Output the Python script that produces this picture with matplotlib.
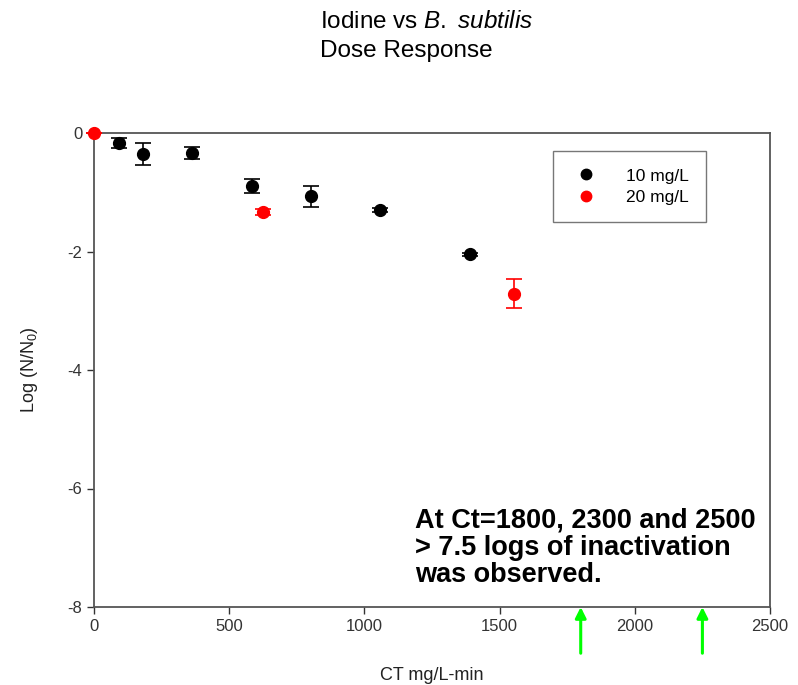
import matplotlib.pyplot as plt
from matplotlib.lines import Line2D

plt.rcParams['font.family'] = ['Liberation Sans', 'DejaVu Sans']
plt.rcParams['axes.unicode_minus'] = False
plt.rcParams['mathtext.fontset'] = 'custom'
plt.rcParams['mathtext.rm'] = 'Liberation Sans'
plt.rcParams['mathtext.it'] = 'Liberation Sans:italic'

# 10 mg/L series
ct_10 = [92, 182, 364, 583, 801, 1058, 1390]
log_10 = [-0.17, -0.355, -0.34, -0.89, -1.07, -1.30, -2.05]
err_10 = [0.09, 0.18, 0.10, 0.115, 0.18, 0.03, 0.03]

# 20 mg/L series
ct_20 = [0, 626, 1553]
log_20 = [0.0, -1.33, -2.71]
err_20 = [0.0, 0.05, 0.25]

# CT values with >7.5 log inactivation (arrows)
arrow_ct = [1800, 2250]

fig = plt.figure(figsize=(7.98, 6.85), dpi=100)
ax = fig.add_axes([94/798, 1-607/685, 676/798, 474/685])

ax.errorbar(ct_10, log_10, yerr=err_10, fmt='o', color='black', ms=8.5,
            capsize=6, elinewidth=1.2, capthick=1.2, zorder=3)
ax.errorbar(ct_20, log_20, yerr=err_20, fmt='o', color='red', ms=8.5,
            capsize=6, elinewidth=1.2, capthick=1.2, zorder=4, clip_on=False)

ax.set_xlim(0, 2500)
ax.set_ylim(-8, 0)
ax.set_xticks([0, 500, 1000, 1500, 2000, 2500])
ax.set_yticks([-8, -6, -4, -2, 0])
ax.tick_params(direction='out', length=5, width=1, labelsize=12, colors='#333333')
for s in ax.spines.values():
    s.set_color('#555555')
    s.set_linewidth(1.3)

ax.set_xlabel('CT mg/L-min', fontsize=13, labelpad=24, color='#222222')
ax.set_ylabel('Log (N/N$_0$)', fontsize=13, labelpad=20, color='#222222')

handles = [Line2D([], [], ls='none', marker='o', color='black', ms=7.5),
           Line2D([], [], ls='none', marker='o', color='red', ms=7.5)]
leg = ax.legend(handles, ['10 mg/L', '20 mg/L'], loc='upper right',
                bbox_to_anchor=((706-94)/676, 1 - (151-133)/474),
                fontsize=12.5, frameon=True, fancybox=False, edgecolor='#555555',
                handletextpad=1.4, borderpad=1.0, labelspacing=0.35, handlelength=1.8,
                borderaxespad=0)
leg.get_frame().set_linewidth(1.0)

fig.text(320/798, 1-22/685, 'Iodine vs $\\it{B.\\ subtilis}$', fontsize=17.5, ha='left', va='center')
fig.text(320/798, 1-51/685, 'Dose Response', fontsize=17.5, ha='left', va='center')

ax.text(1187, -7.0, 'At Ct=1800, 2300 and 2500\n> 7.5 logs of inactivation\nwas observed.',
        fontsize=19.5, fontweight='bold', ha='left', va='center', linespacing=1.05)

for xa in arrow_ct:
    ax.annotate('', xy=(xa, -8), xytext=(xa, -8.78), annotation_clip=False,
                arrowprops=dict(arrowstyle='-|>', color='#00ff00', lw=2.2,
                                mutation_scale=16, shrinkA=0, shrinkB=0))

fig.savefig('out.png', dpi=100)
